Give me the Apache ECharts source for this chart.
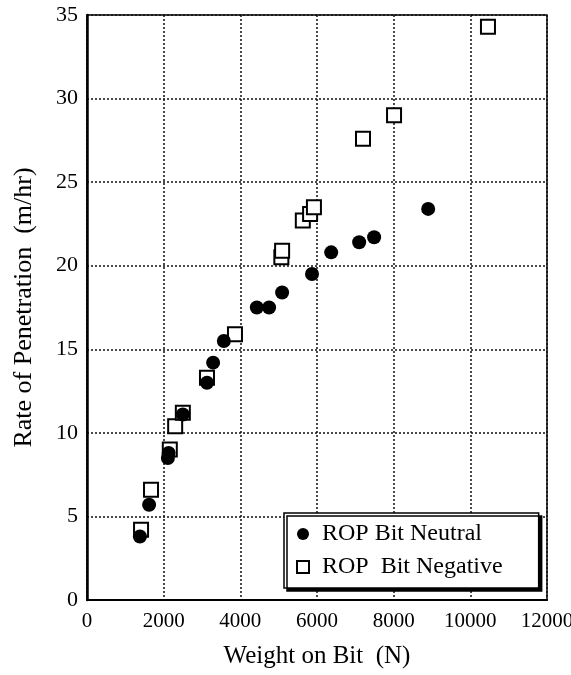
<!DOCTYPE html>
<html>
<head>
<meta charset="utf-8">
<script src="https://cdn.jsdelivr.net/npm/echarts@6/dist/echarts.min.js"></script>
<style>
  html, body { margin: 0; padding: 0; background: #fff; }
  #chart { width: 571px; height: 675px; }
</style>
</head>
<body>
<div id="chart"></div>
<script>
// weight on bit (N) / rate of penetration (m/hr)
const neutralWob = [1380, 1620, 2110, 2130, 2500, 3130, 3290, 3570, 4430, 4750, 5090, 5870, 6370, 7100, 7490, 8900];
const neutralRop = [3.8, 5.7, 8.5, 8.8, 11.1, 13.0, 14.2, 15.5, 17.5, 17.5, 18.4, 19.5, 20.8, 21.4, 21.7, 23.4];

const negativeWob = [1410, 1670, 2160, 2300, 2500, 3130, 3860, 5070, 5090, 5630, 5820, 5920, 7200, 8010, 10460];
const negativeRop = [4.2, 6.6, 9.0, 10.4, 11.2, 13.3, 15.9, 20.5, 20.9, 22.7, 23.1, 23.5, 27.6, 29.0, 34.3];

const seriesNames = ['ROP Bit Neutral', 'ROP  Bit Negative'];

const zip = (xs, ys) => xs.map((x, i) => [x, ys[i]]);
const font = "'Liberation Serif', 'Times New Roman', serif";

const chart = echarts.init(document.getElementById('chart'));
chart.setOption({
    animation: false,
    textStyle: { fontFamily: font, color: '#000' },
    grid: {
        left: 87, right: 24, top: 15, bottom: 75,
        outerBoundsMode: 'none',
        containLabel: false,
        show: true, borderColor: '#000', borderWidth: 1.5,
        backgroundColor: 'transparent'
    },
    xAxis: {
        type: 'value', min: 0, max: 12000, interval: 2000,
        name: 'Weight on Bit  (N)', nameLocation: 'middle', nameGap: 44,
        nameTextStyle: { fontSize: 25, fontFamily: font, color: '#000' },
        axisLine: { lineStyle: { color: '#000', width: 2 } },
        axisTick: { show: false },
        axisLabel: {
            fontSize: 21, fontFamily: font, color: '#000', margin: 11,
            formatter: v => String(v)
        },
        splitLine: { lineStyle: { type: [2, 2], color: '#111', width: 1.5 } }
    },
    yAxis: {
        type: 'value', min: 0, max: 35, interval: 5,
        name: 'Rate of Penetration  (m/hr)', nameLocation: 'middle', nameGap: 50,
        nameTextStyle: { fontSize: 26, fontFamily: font, color: '#000' },
        axisLine: { show: true, lineStyle: { color: '#000', width: 2.5 } },
        axisTick: { show: false },
        axisLabel: { fontSize: 22, fontFamily: font, color: '#000', margin: 9 },
        splitLine: { lineStyle: { type: [2, 2], color: '#111', width: 1.5 } }
    },
    legend: {
        orient: 'vertical',
        left: 284, top: 513,
        padding: [9, 36, 9, 12],
        itemGap: 9, itemWidth: 12, itemHeight: 12,
        backgroundColor: '#fff',
        borderColor: '#000', borderWidth: 1.5,
        shadowColor: '#000', shadowBlur: 0, shadowOffsetX: 3, shadowOffsetY: 3,
        textStyle: { fontSize: 24, fontFamily: font, color: '#000', padding: [0, 0, 0, 8] },
        data: [
            { name: seriesNames[0], icon: 'circle' },
            { name: seriesNames[1], icon: 'rect' }
        ]
    },
    series: [
        {
            name: seriesNames[1],
            type: 'scatter',
            symbol: 'rect',
            symbolSize: 14,
            itemStyle: { color: '#fff', borderColor: '#000', borderWidth: 2, opacity: 1 },
            data: zip(negativeWob, negativeRop),
            z: 2
        },
        {
            name: seriesNames[0],
            type: 'scatter',
            symbol: 'circle',
            symbolSize: 14,
            itemStyle: { color: '#000', opacity: 1 },
            data: zip(neutralWob, neutralRop),
            z: 3
        }
    ]
});
</script>
</body>
</html>
